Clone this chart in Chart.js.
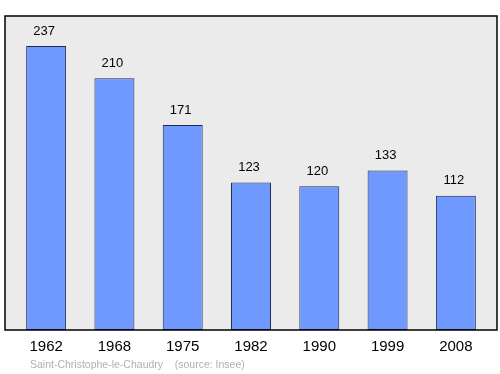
<!DOCTYPE html>
<html>
<head>
<meta charset="utf-8">
<script src="https://cdn.jsdelivr.net/npm/chart.js@4"></script>
<style>
  html, body { margin: 0; padding: 0; background: #fff; }
  #wrap { width: 500px; height: 374px; }
</style>
</head>
<body>
<div id="wrap"><canvas id="popChart" width="500" height="374"></canvas></div>
<script>
// Population data
const years = ['1962', '1968', '1975', '1982', '1990', '1999', '2008'];
const population = [237, 210, 171, 123, 120, 133, 112];
const sourceText = 'Saint-Christophe-le-Chaudry    (source: Insee)';

const FONT = 'Liberation Sans, Arial, sans-serif';

// background frame + labels drawn around the bars
const framePlugin = {
    id: 'frame',
    beforeDraw(chart) {
        const ctx = chart.ctx;
        const area = chart.chartArea;
        ctx.save();
        ctx.fillStyle = '#ebebeb';
        ctx.fillRect(5, area.top, 492, area.bottom - area.top);
        ctx.restore();
    },
    afterDraw(chart) {
        const ctx = chart.ctx;
        const area = chart.chartArea;
        const x = chart.scales.x;
        const y = chart.scales.y;
        ctx.save();
        ctx.strokeStyle = '#000';
        ctx.lineWidth = 1.5;
        ctx.strokeRect(5, area.top, 492, area.bottom - area.top);

        ctx.fillStyle = '#000';
        ctx.textAlign = 'center';
        ctx.textBaseline = 'middle';
        ctx.font = '13px ' + FONT;
        population.forEach((v, i) => {
            ctx.fillText(String(v), x.getPixelForValue(i) - 2, y.getPixelForValue(v) - 15);
        });
        ctx.font = '15px ' + FONT;
        years.forEach((yr, i) => {
            ctx.fillText(yr, x.getPixelForValue(i), 347);
        });
        ctx.fillStyle = '#b0b0b0';
        ctx.textAlign = 'left';
        ctx.font = '10.5px ' + FONT;
        ctx.fillText(sourceText, 30, 365);
        ctx.restore();
    }
};

new Chart(document.getElementById('popChart').getContext('2d'), {
    type: 'bar',
    data: {
        labels: years,
        datasets: [{
            data: population,
            backgroundColor: '#7099ff',
            borderColor: '#1a2a50',
            borderWidth: 1,
            borderSkipped: false,
            barPercentage: 0.585,
            categoryPercentage: 1
        }]
    },
    options: {
        responsive: false,
        animation: false,
        layout: { padding: { left: 12, right: 10, top: 16, bottom: 44 } },
        plugins: { legend: { display: false }, tooltip: { enabled: false } },
        scales: {
            x: { display: false },
            y: { display: false, min: 0, max: 262 }
        }
    },
    plugins: [framePlugin]
});
</script>
</body>
</html>
